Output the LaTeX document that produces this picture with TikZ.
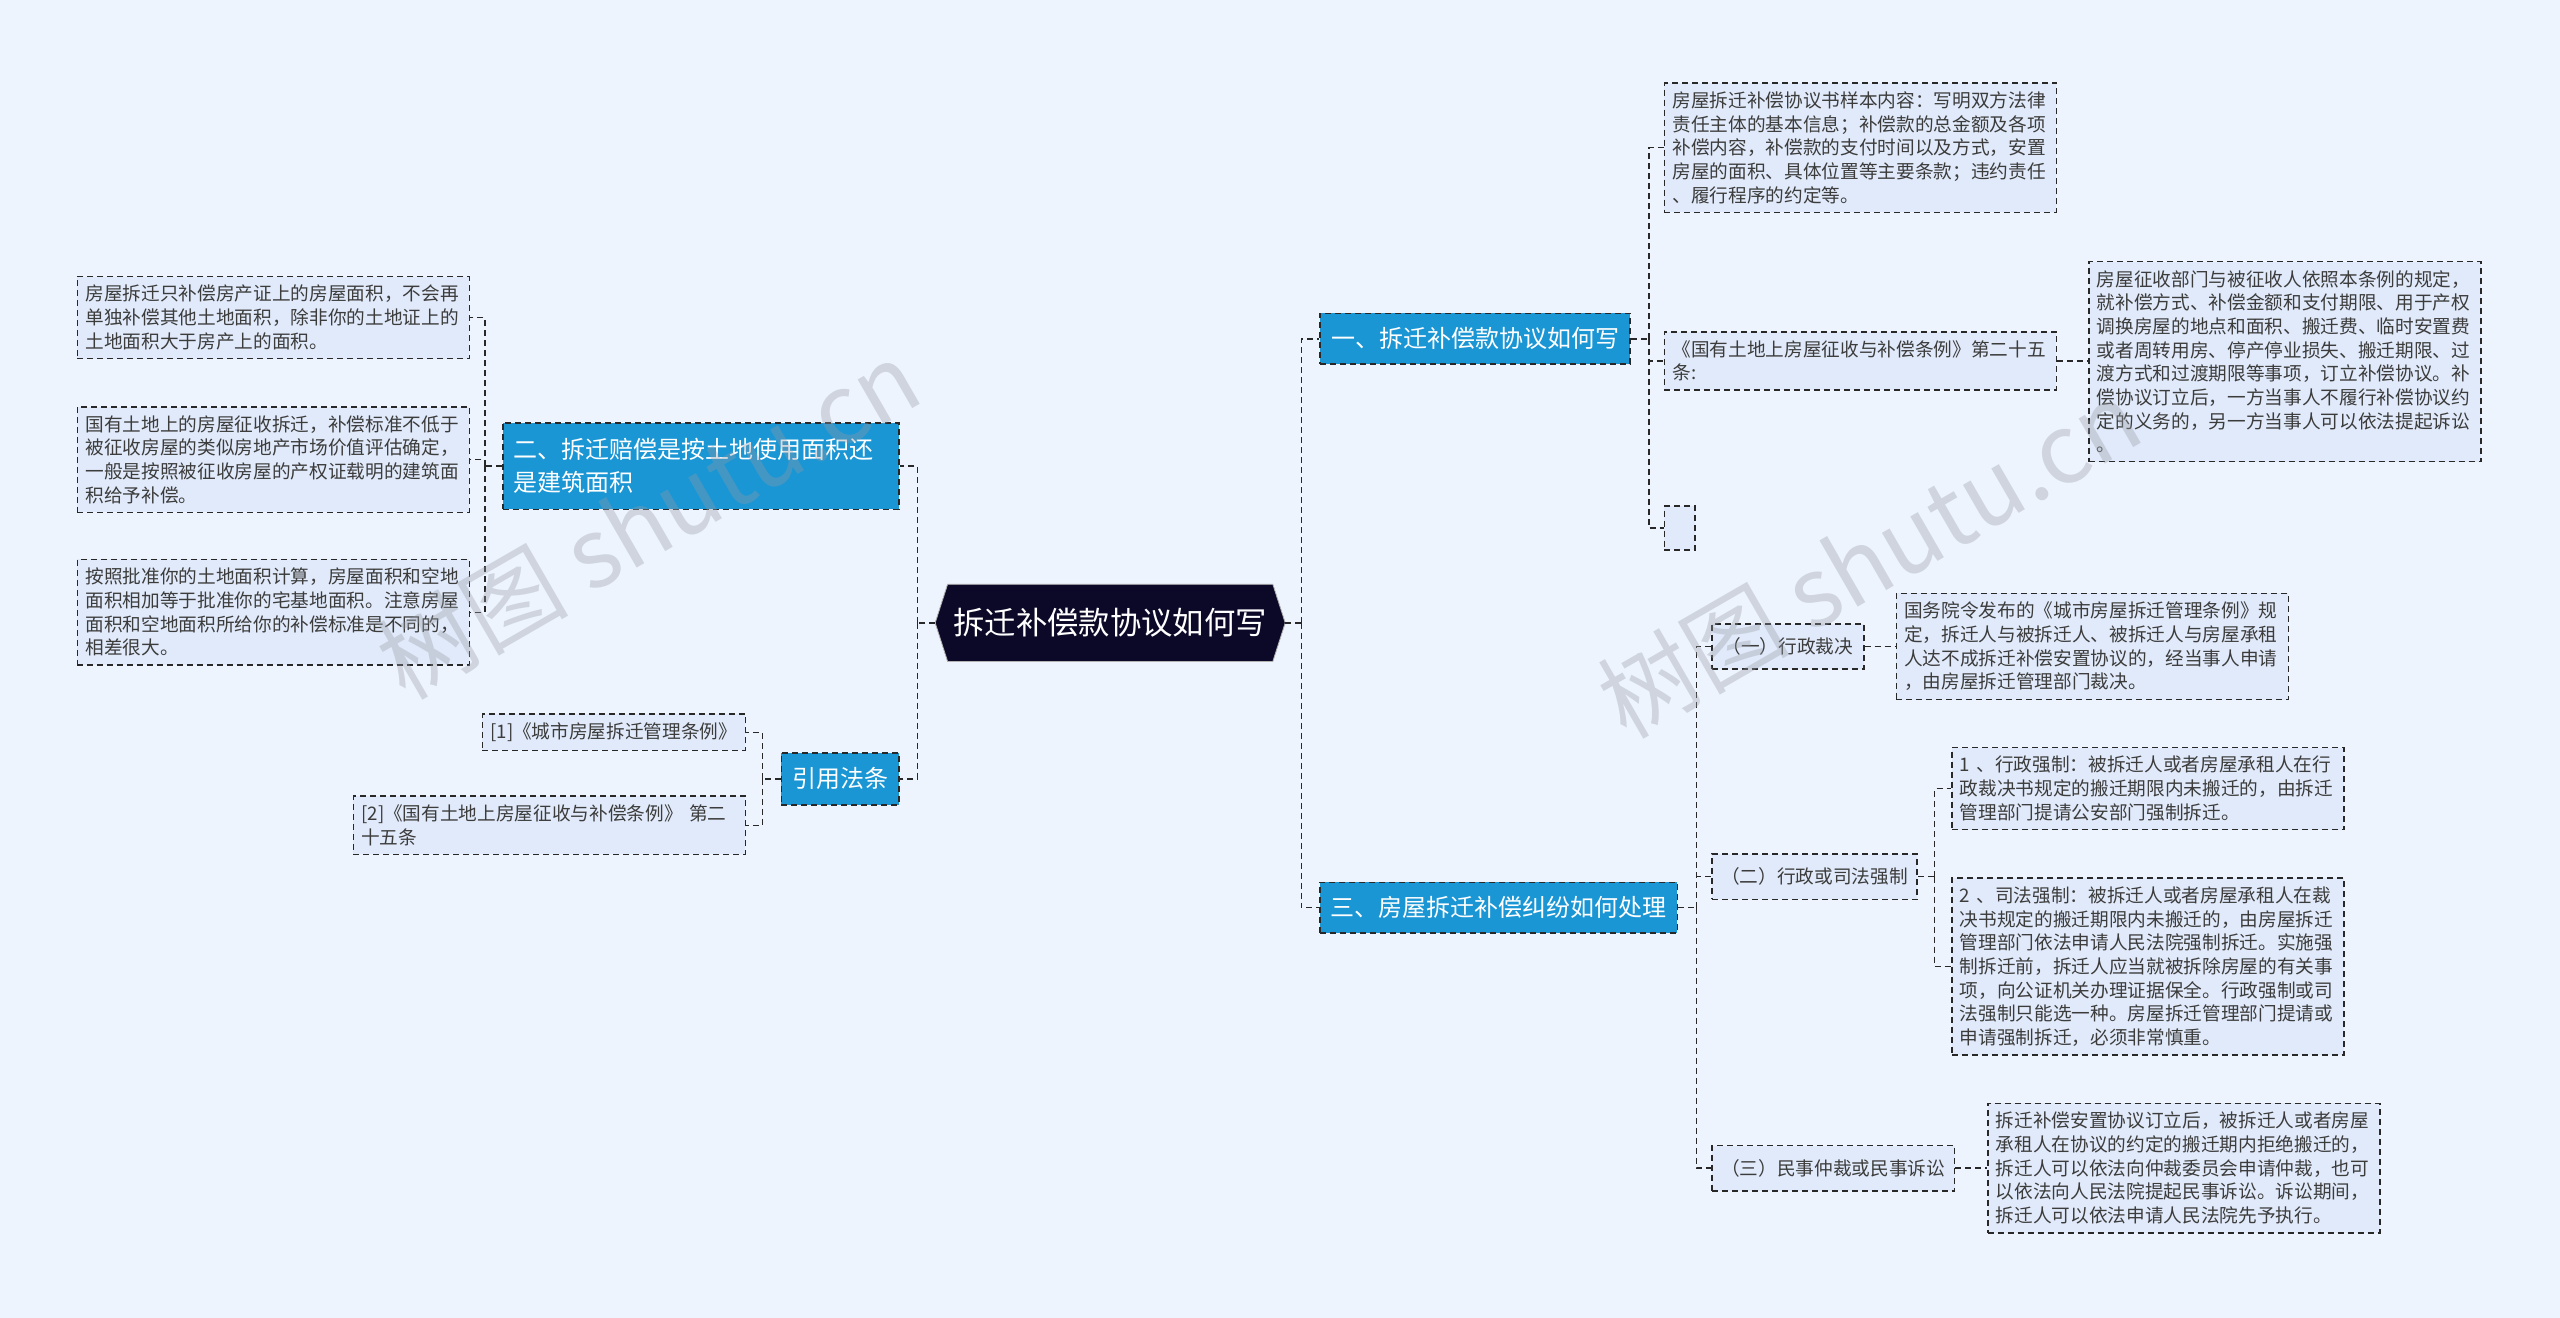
\documentclass[tikz,border=0pt]{standalone}
\usepackage{fontspec}
\setmainfont{Noto Sans CJK SC}
\usetikzlibrary{backgrounds}
\definecolor{bgc}{RGB}{238,244,253}
\definecolor{leafc}{RGB}{225,234,250}
\definecolor{bluec}{RGB}{27,150,212}
\definecolor{rootc}{RGB}{12,9,40}
\definecolor{txtc}{RGB}{60,60,60}
\definecolor{linec}{RGB}{40,40,40}
\definecolor{wmc}{RGB}{150,155,165}
\begin{document}
\begin{tikzpicture}[x=1.2245pt,y=-1.2245pt,
  dsh/.style={dash pattern=on 4.5pt off 3pt},
  conn/.style={draw=linec, line width=1.1pt, dash pattern=on 4.5pt off 3pt},
  leaf/.style={draw=linec, line width=1.2pt, dsh, fill=leafc, text=txtc,
    font=\fontsize{14}{17.76}\selectfont, align=left, inner xsep=6pt, inner ysep=6.5pt},
  wide/.style={leaf, text width=282pt},
  tag/.style={leaf, align=center, minimum height=34pt},
  topic/.style={draw=linec, line width=1.2pt, dsh, fill=bluec, text=white,
    font=\fontsize{18}{24.5}\selectfont, inner xsep=8pt, inner ysep=5pt, align=left},
  rootn/.style={text=white, font=\fontsize{23.5}{28}\selectfont, inner sep=0pt,
    minimum width=243.5pt, minimum height=57.5pt},
  wm/.style={text=wmc, opacity=0.35, font=\fontsize{72}{80}\selectfont, rotate=30},
]
\useasboundingbox (0,0) rectangle (1568,807);

% root
\node[rootn] (root) at (680,381.5) {拆迁补偿款协议如何写};
\coordinate (rootL) at ([xshift=-9.3pt]root.west);
\coordinate (rootR) at ([xshift=9.3pt]root.east);
\begin{scope}[on background layer]
\fill[bgc] (0,0) rectangle (1568,807);
\fill[rootc, draw=gray!60, line width=0.6pt] (root.north west) -- (root.north east) -- (rootR)
  -- (root.south east) -- (root.south west) -- (rootL) -- cycle;
\end{scope}

% topics
\node[topic, minimum width=232.7pt, minimum height=38pt, anchor=west] (b1) at (808,207.5) {一、拆迁补偿款协议如何写};
\node[topic, minimum width=268pt, minimum height=38pt, anchor=west] (b3) at (808,556) {三、房屋拆迁补偿纠纷如何处理};
\node[topic, text width=281pt, minimum height=65pt, anchor=east] (b2) at (551,285.5) {二、拆迁赔偿是按土地使用面积还\\是建筑面积};
\node[topic, minimum height=39pt, anchor=east] (b4) at (551,477) {引用法条};

% right side leaves
\node[wide, anchor=west] (l1a) at (1019,90.5) {房屋拆迁补偿协议书样本内容：写明双方法律\\责任主体的基本信息；补偿款的总金额及各项\\补偿内容，补偿款的支付时间以及方式，安置\\房屋的面积、具体位置等主要条款；违约责任\\、履行程序的约定等。};
\node[wide, anchor=west] (l1b) at (1019,221) {《国有土地上房屋征收与补偿条例》第二十五\\条:};
\node[leaf, minimum width=23pt, minimum height=33pt, anchor=west] (l1c) at (1019,323.5) {};
\node[wide, anchor=west] (l1b1) at (1279,221.5) {房屋征收部门与被征收人依照本条例的规定，\\就补偿方式、补偿金额和支付期限、用于产权\\调换房屋的地点和面积、搬迁费、临时安置费\\或者周转用房、停产停业损失、搬迁期限、过\\渡方式和过渡期限等事项，订立补偿协议。补\\偿协议订立后，一方当事人不履行补偿协议约\\定的义务的，另一方当事人可以依法提起诉讼\\。};

\node[tag, minimum width=114pt, anchor=west] (c1) at (1048,396) {（一）行政裁决};
\node[wide, anchor=west] (c1x) at (1161,396) {国务院令发布的《城市房屋拆迁管理条例》规\\定，拆迁人与被拆迁人、被拆迁人与房屋承租\\人达不成拆迁补偿安置协议的，经当事人申请\\，由房屋拆迁管理部门裁决。};
\node[tag, minimum width=154pt, anchor=west] (c2) at (1048,537) {（二）行政或司法强制};
\node[wide, anchor=west] (c2a) at (1195,483) {1 、行政强制：被拆迁人或者房屋承租人在行\\政裁决书规定的搬迁期限内未搬迁的，由拆迁\\管理部门提请公安部门强制拆迁。};
\node[wide, anchor=west] (c2b) at (1195,592) {2 、司法强制：被拆迁人或者房屋承租人在裁\\决书规定的搬迁期限内未搬迁的，由房屋拆迁\\管理部门依法申请人民法院强制拆迁。实施强\\制拆迁前，拆迁人应当就被拆除房屋的有关事\\项，向公证机关办理证据保全。行政强制或司\\法强制只能选一种。房屋拆迁管理部门提请或\\申请强制拆迁，必须非常慎重。};
\node[tag, minimum width=182pt, anchor=west] (c3) at (1048,715.5) {（三）民事仲裁或民事诉讼};
\node[wide, anchor=west] (c3x) at (1217,715.5) {拆迁补偿安置协议订立后，被拆迁人或者房屋\\承租人在协议的约定的搬迁期内拒绝搬迁的，\\拆迁人可以依法向仲裁委员会申请仲裁，也可\\以依法向人民法院提起民事诉讼。诉讼期间，\\拆迁人可以依法申请人民法院先予执行。};

% left side leaves
\node[wide, anchor=east] (la) at (288,194.5) {房屋拆迁只补偿房产证上的房屋面积，不会再\\单独补偿其他土地面积，除非你的土地证上的\\土地面积大于房产上的面积。};
\node[wide, anchor=east] (lb) at (288,281.5) {国有土地上的房屋征收拆迁，补偿标准不低于\\被征收房屋的类似房地产市场价值评估确定，\\一般是按照被征收房屋的产权证载明的建筑面\\积给予补偿。};
\node[wide, anchor=east] (lc) at (288,375) {按照批准你的土地面积计算，房屋面积和空地\\面积相加等于批准你的宅基地面积。注意房屋\\面积和空地面积所给你的补偿标准是不同的，\\相差很大。};
\node[leaf, anchor=east] (r1) at (457,448.5) {[1]《城市房屋拆迁管理条例》};
\node[wide, anchor=east] (r2) at (457,505.5) {[2]《国有土地上房屋征收与补偿条例》 第二\\十五条};

% connectors right
\coordinate (busR) at (797,381.5);
\draw[conn] (rootR) -- (busR);
\draw[conn] (busR) |- (b1.west);
\draw[conn] (busR) |- (b3.west);
\coordinate (bus1) at (1010,207.5);
\draw[conn] (b1.east) -- (bus1);
\draw[conn] (bus1) |- (l1a.west);
\draw[conn] (bus1) |- (l1b.west);
\draw[conn] (bus1) |- (l1c.west);
\draw[conn] (l1b.east) -- (l1b1.west |- l1b.east);
\coordinate (bus3) at (1039,556);
\draw[conn] (b3.east) -- (bus3);
\draw[conn] (bus3) |- (c1.west);
\draw[conn] (bus3) |- (c2.west);
\draw[conn] (bus3) |- (c3.west);
\draw[conn] (c1.east) -- (c1x.west |- c1.east);
\coordinate (bus32) at (1185,537);
\draw[conn] (c2.east) -- (bus32);
\draw[conn] (bus32) |- (c2a.west);
\draw[conn] (bus32) |- (c2b.west);
\draw[conn] (c3.east) -- (c3x.west |- c3.east);

% connectors left
\coordinate (busL) at (562,381.5);
\draw[conn] (rootL) -- (busL);
\draw[conn] (busL) |- (b2.east);
\draw[conn] (busL) |- (b4.east);
\coordinate (bus2) at (297,285.5);
\draw[conn] (b2.west) -- (bus2);
\draw[conn] (bus2) |- (la.east);
\draw[conn] (bus2) |- (lb.east);
\draw[conn] (bus2) |- (lc.east);
\coordinate (bus4) at (467,477);
\draw[conn] (b4.west) -- (bus4);
\draw[conn] (bus4) |- (r1.east);
\draw[conn] (bus4) |- (r2.east);

% watermarks
\node[wm] (wm1) at (397,318) {树图 shutu.cn};
\node[wm] (wm2) at (1145,342) {树图 shutu.cn};
\end{tikzpicture}
\end{document}
